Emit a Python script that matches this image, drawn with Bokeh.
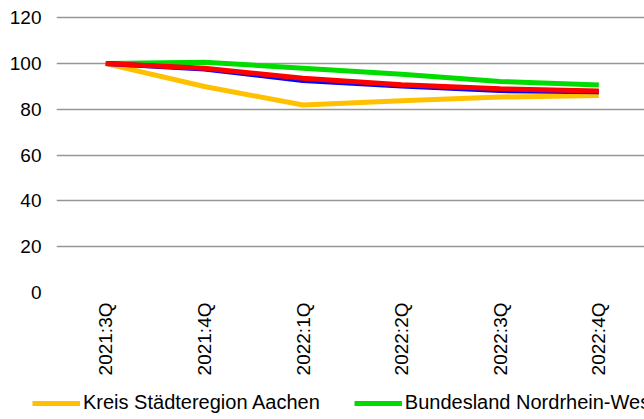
import math
from bokeh.plotting import figure
from bokeh.layouts import column, row
from bokeh.models import Range1d, FixedTicker, Legend, LegendItem
from bokeh.embed import file_html
from bokeh.resources import INLINE

quarters = ["2021:3Q", "2021:4Q", "2022:1Q", "2022:2Q", "2022:3Q", "2022:4Q"]
aachen = [100.0, 90.0, 81.9, 83.8, 85.4, 86.1]
nrw = [100.0, 100.6, 98.0, 95.4, 92.2, 90.6]
blue_series = [100.0, 97.6, 92.6, 90.2, 88.2, 87.7]
red_series = [100.0, 98.0, 93.6, 90.8, 89.0, 88.0]
y_ticks = [0, 20, 40, 60, 80, 100, 120]

names_legend = ["Kreis Städteregion Aachen", "Bundesland Nordrhein-Westfalen"]
colors = ["#FFC000", "#00DC00", "#0000FF", "#FF0000"]

FONT = "Liberation Sans"
FS = "19px"
FS_LEG = "20px"

x_idx = list(range(len(quarters)))

p = figure(width=644, height=390, output_backend="svg", toolbar_location=None,
           x_range=Range1d(-0.5, 5.463), y_range=Range1d(0, 123.2),
           min_border_left=56, min_border_right=0, min_border_top=10,
           min_border_bottom=98)
p.outline_line_color = None
p.background_fill_color = "white"
p.border_fill_color = "white"

for series, c in zip([aachen, nrw, blue_series, red_series], colors):
    p.line(x_idx, series, line_color=c, line_width=5)

p.xgrid.grid_line_color = None
p.ygrid.grid_line_color = "#969696"
p.ygrid.grid_line_width = 1.4
p.yaxis.ticker = FixedTicker(ticks=y_ticks)
p.xaxis.ticker = FixedTicker(ticks=x_idx)
p.xaxis.major_label_overrides = {i: q for i, q in zip(x_idx, quarters)}
p.xaxis.major_label_orientation = math.pi / 2

for ax in (p.xaxis[0], p.yaxis[0]):
    ax.axis_line_color = None
    ax.major_tick_line_color = None
    ax.minor_tick_line_color = None
    ax.major_tick_out = 0
    ax.major_tick_in = 0
    ax.major_label_text_font = FONT
    ax.major_label_text_font_size = FS
    ax.major_label_text_color = "#000000"
p.xaxis.major_label_standoff = 10
p.yaxis.major_label_standoff = 15

# legend strip: its own small figure; the series are drawn there too but lie
# outside its (0..1) y range, so only their legend entries show
lg = figure(width=644, height=29, output_backend="svg", toolbar_location=None,
            x_range=Range1d(0, 1), y_range=Range1d(0, 1),
            x_axis_type=None, y_axis_type=None,
            min_border=0, min_border_left=0, min_border_right=0,
            min_border_top=0, min_border_bottom=0)
lg.outline_line_color = None
lg.grid.visible = False
lg_items = []
for name, series, c in zip(names_legend, [aachen, nrw], colors[:2]):
    r = lg.line(x_idx, series, line_color=c, line_width=5)
    lg_items.append(LegendItem(label=name, renderers=[r]))

legend = Legend(items=lg_items, orientation="horizontal", location=(32, 5),
                label_text_font=FONT, label_text_font_size=FS_LEG,
                label_text_color="#000000",
                glyph_width=48, glyph_height=22, label_height=22,
                label_standoff=3, spacing=34, padding=0, margin=0,
                border_line_color=None, background_fill_alpha=0)
lg.add_layout(legend, "center")

layout = column(p, row(lg, spacing=0), spacing=0)
open("out.html", "w").write(file_html(layout, INLINE))
